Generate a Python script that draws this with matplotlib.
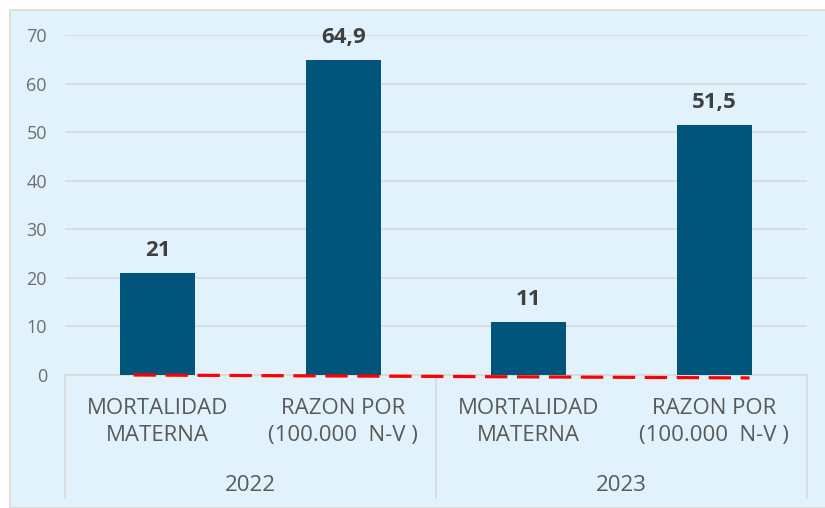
import matplotlib.pyplot as plt
from matplotlib.patches import Rectangle

categories = ["MORTALIDAD\nMATERNA", "RAZON POR\n(100.000  N-V )",
              "MORTALIDAD\nMATERNA", "RAZON POR\n(100.000  N-V )"]
years = ["2022", "2023"]
values = [21, 64.9, 11, 51.5]
value_labels = ["21", "64,9", "11", "51,5"]
trend_x = [-0.13, 3.19]
trend_y = [0.0, -0.6]

BAR = "#02557A"
BG = "#E1F2FC"
TXT = "#595959"

plt.rcParams["font.family"] = ["Open Sans", "DejaVu Sans"]

fig = plt.figure(figsize=(8.25, 5.08), dpi=100)
fig.patch.set_facecolor("white")
fig.add_artist(Rectangle((10 / 825, 0), 1, 1 - 10 / 508, transform=fig.transFigure,
                         facecolor=BG, edgecolor="#D9D9D9", lw=1.2, zorder=0))

ax = fig.add_axes([65 / 825, 1 - 375 / 508, (807 - 65) / 825, 340 / 508])
ax.set_facecolor("none")
x = list(range(len(values)))
ax.bar(x, values, width=0.405, color=BAR, zorder=3)
for xi, v, lab in zip(x, values, value_labels):
    ax.text(xi, v + 3.4, lab, ha="center", va="baseline", fontsize=16,
            fontweight="bold", color="#404040")
ax.plot(trend_x, trend_y, color="#FF0000", ls=(0, (7, 3)), lw=2.3, zorder=6,
        clip_on=False)

ax.set_xlim(-0.5, 3.5)
ax.set_ylim(0, 70)
ax.set_yticks(range(0, 71, 10))
ax.tick_params(axis="y", length=0, labelsize=13, labelcolor="#6E6E6E", pad=13)
ax.yaxis.grid(True, color="#D9D9D9", lw=1.2, zorder=0)
ax.set_xticks([])
for s in ["top", "right", "left"]:
    ax.spines[s].set_visible(False)
ax.spines["bottom"].set_color("#D9D9D9")
ax.spines["bottom"].set_linewidth(1.2)

# two-level category axis
trans = ax.get_xaxis_transform()
for xi, cat in zip(x, categories):
    ax.text(xi, -0.138, cat, transform=trans, ha="center", va="center",
            fontsize=16, color=TXT, linespacing=1.35)
for i, yr in enumerate(years):
    ax.text(2 * i + 0.5, -0.324, yr, transform=trans, ha="center", va="center",
            fontsize=16, color=TXT)
for xs in [-0.5, 1.5, 3.5]:
    ax.plot([xs, xs], [0, -0.362], transform=trans, color="#D9D9D9", lw=1.2,
            clip_on=False)

fig.savefig("out.png", dpi=100)
